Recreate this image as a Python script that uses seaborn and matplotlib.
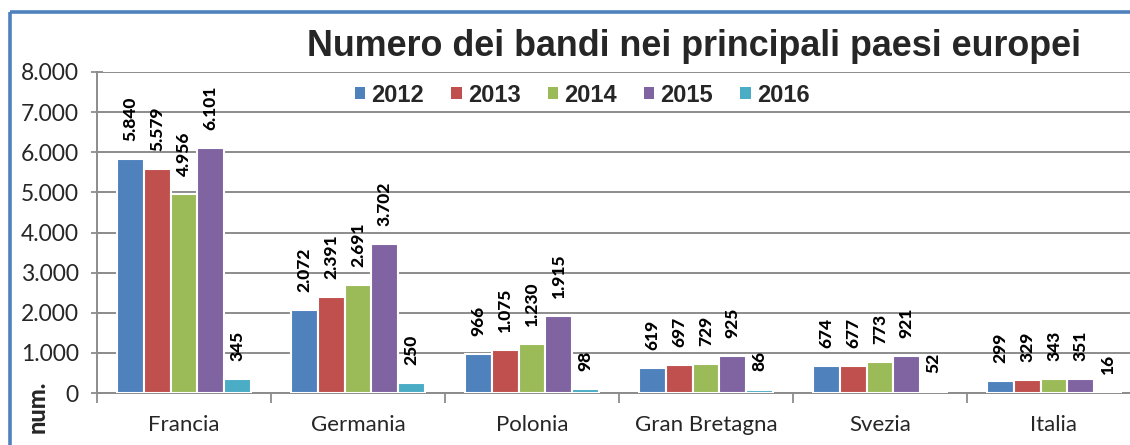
import matplotlib
matplotlib.use("Agg")
import matplotlib.pyplot as plt
import matplotlib.lines as mlines
import matplotlib.ticker as mticker
import seaborn as sns
import pandas as pd

# Data
paesi = ["Francia", "Germania", "Polonia", "Gran Bretagna", "Svezia", "Italia"]
anni = ["2012", "2013", "2014", "2015", "2016"]
v2012 = [5840, 2072, 966, 619, 674, 299]
v2013 = [5579, 2391, 1075, 697, 677, 329]
v2014 = [4956, 2691, 1230, 729, 773, 343]
v2015 = [6101, 3702, 1915, 925, 921, 351]
v2016 = [345, 250, 98, 86, 52, 16]
colori = ["#4F81BD", "#C0504D", "#9BBB59", "#8064A2", "#4BACC6"]

rows = []
for anno, vals in zip(anni, [v2012, v2013, v2014, v2015, v2016]):
    for paese, v in zip(paesi, vals):
        rows.append({"paese": paese, "anno": anno, "bandi": v})
df = pd.DataFrame(rows)


def it_fmt(x, pos=None):
    return f"{int(round(x)):,}".replace(",", ".")


sns.set_theme(style="white")
plt.rcParams["font.family"] = ["Lato", "DejaVu Sans"]

W, H = 1130, 445
fig = plt.figure(figsize=(W / 100, H / 100), dpi=100)
ax = fig.add_axes([97 / W, (H - 393) / H, (W - 97) / W, (393 - 72) / H])

sns.barplot(data=df, x="paese", y="bandi", hue="anno", order=paesi,
            hue_order=anni, palette=colori, width=0.77, ax=ax,
            edgecolor="white", linewidth=1.5, saturation=1, legend=True,
            zorder=3)

# value labels
for cont in ax.containers:
    for bar in cont:
        h = bar.get_height()
        ax.annotate(it_fmt(h), (bar.get_x() + bar.get_width() / 2, h),
                    xytext=(0, 13), textcoords="offset points",
                    rotation=90, ha="center", va="bottom",
                    fontsize=12.5, fontweight="black", color="black",
                    zorder=5)

ax.set_ylim(0, 8000)
ax.set_xlim(-0.5, -0.5 + (W - 97) / 174)
ax.yaxis.set_major_locator(mticker.MultipleLocator(1000))
ax.yaxis.set_major_formatter(mticker.FuncFormatter(it_fmt))
ax.grid(axis="y", color="#8c8c8c", linewidth=1.4, zorder=0)
ax.set_axisbelow(True)
for s in ["top", "right"]:
    ax.spines[s].set_visible(False)
for s in ["left", "bottom"]:
    ax.spines[s].set_color("#8c8c8c")
    ax.spines[s].set_linewidth(1.4)

ax.tick_params(axis="y", length=8, direction="inout", color="#8c8c8c",
               width=1.3, labelsize=16.5, pad=9, left=True)
ax.tick_params(axis="x", length=0, labelsize=16, pad=16)
ax.set_xticks(range(len(paesi)))
ax.set_xticks([i + 0.5 for i in range(-1, len(paesi) - 1)], minor=True)
ax.tick_params(axis="x", which="minor", length=7, color="#8c8c8c",
               width=1.3, bottom=True)
ax.set_xlabel("")
ax.set_ylabel("")

leg = ax.legend(loc="center", bbox_to_anchor=(582 / W, 1 - 95 / H),
                bbox_transform=fig.transFigure, ncol=5, frameon=False,
                handlelength=0.45, handleheight=0.45, handletextpad=0.25,
                columnspacing=1.15, borderpad=0,
                prop={"family": ["Liberation Sans"], "weight": "bold",
                      "size": 17})
for p in leg.get_patches():
    p.set_linewidth(0)

fig.text(694 / W, 1 - 47 / H, "Numero dei bandi nei principali paesi europei",
         ha="center", va="center", fontsize=25.8, fontweight="bold",
         family=["Liberation Sans"])

fig.text(37 / W, 1 - 381 / H, "num.", rotation=90, ha="center", va="top",
         fontsize=17, fontweight="black")

# blue outer frame (only left and top edges are inside the picture)
frame_kw = dict(color="#4F81BD", linewidth=2.6, transform=fig.transFigure,
                solid_capstyle="butt")
fig.add_artist(mlines.Line2D([10 / W, 10 / W], [0, 1 - 12 / H], **frame_kw))
fig.add_artist(mlines.Line2D([10 / W, 1.01], [1 - 12 / H, 1 - 12 / H], **frame_kw))

fig.savefig("out.png", dpi=100)
